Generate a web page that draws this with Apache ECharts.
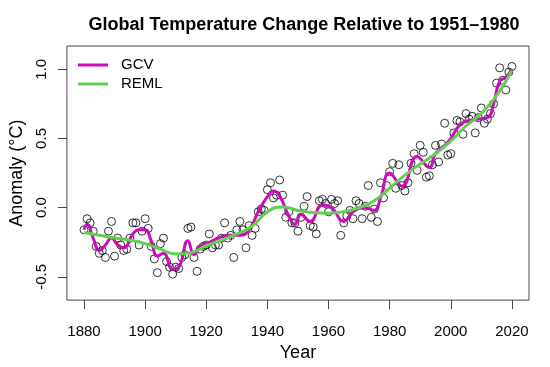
<!DOCTYPE html>
<html>
<head>
<meta charset="utf-8">
<script src="https://cdn.jsdelivr.net/npm/echarts@6/dist/echarts.min.js"></script>
<style>
html,body{margin:0;padding:0;background:#fff;}
#chart{width:550px;height:367px;}
</style>
</head>
<body>
<div id="chart"></div>
<script>
// Annual anomalies, 1880-2020 (°C)
const startYear = 1880;
const anomalies = [
 -0.16,-0.08,-0.11,-0.17,-0.28,-0.33,-0.31,-0.36,-0.17,-0.10,
 -0.35,-0.22,-0.27,-0.31,-0.30,-0.22,-0.11,-0.11,-0.27,-0.17,
 -0.08,-0.15,-0.28,-0.37,-0.47,-0.26,-0.22,-0.39,-0.43,-0.48,
 -0.43,-0.44,-0.36,-0.34,-0.15,-0.14,-0.36,-0.46,-0.30,-0.28,
 -0.27,-0.19,-0.29,-0.27,-0.27,-0.22,-0.11,-0.22,-0.20,-0.36,
 -0.16,-0.10,-0.16,-0.29,-0.13,-0.20,-0.15,-0.03,-0.01,-0.02,
  0.13, 0.18, 0.07, 0.09, 0.20, 0.09,-0.07,-0.03,-0.11,-0.11,
 -0.17,-0.07, 0.01, 0.08,-0.13,-0.14,-0.19, 0.05, 0.06, 0.03,
 -0.03, 0.06, 0.03, 0.05,-0.20,-0.11,-0.06,-0.02,-0.08, 0.05,
  0.03,-0.08, 0.01, 0.16,-0.07,-0.01,-0.10, 0.18, 0.07, 0.16,
  0.26, 0.32, 0.14, 0.31, 0.16, 0.12, 0.18, 0.32, 0.39, 0.27,
  0.45, 0.40, 0.22, 0.23, 0.31, 0.45, 0.33, 0.46, 0.61, 0.38,
  0.39, 0.54, 0.63, 0.62, 0.53, 0.68, 0.64, 0.66, 0.54, 0.65,
  0.72, 0.61, 0.64, 0.68, 0.75, 0.90, 1.01, 0.92, 0.85, 0.98,
  1.02
];

// GCV smooth
const gcvYears = [1880,1881,1883,1885,1887,1889,1891,1893,1896,1898,1900,1902,1904,1906,1909,1911,1914,1916,1918,1921,1925,1928,1931,1934,1937,1940,1942,1944,1947,1949,1951,1954,1958,1961,1965,1968,1972,1975,1977,1980,1984,1989,1993,1995,1999,2004,2008,2012,2014,2016,2018,2020];
const gcvValues = [-0.16,-0.12,-0.22,-0.31,-0.27,-0.22,-0.27,-0.29,-0.19,-0.16,-0.16,-0.24,-0.35,-0.33,-0.445,-0.43,-0.24,-0.34,-0.28,-0.25,-0.21,-0.20,-0.20,-0.16,-0.03,0.08,0.12,0.085,-0.06,-0.12,-0.05,-0.10,0.02,0.0,-0.10,-0.03,0.0,-0.02,0.07,0.25,0.155,0.37,0.29,0.39,0.47,0.615,0.637,0.65,0.75,0.915,0.94,1.0];

// REML smooth
const remlYears = [1880,1885,1890,1895,1900,1905,1910,1915,1920,1925,1930,1935,1940,1945,1950,1955,1960,1965,1970,1975,1980,1985,1990,1995,2000,2005,2010,2015,2020];
const remlValues = [-0.18,-0.20,-0.22,-0.235,-0.26,-0.30,-0.335,-0.325,-0.275,-0.235,-0.19,-0.135,-0.03,0.005,-0.02,-0.035,-0.04,-0.03,0.0,0.05,0.14,0.235,0.315,0.39,0.48,0.59,0.68,0.81,0.99];

const xTicks = [1880,1900,1920,1940,1960,1980,2000,2020];
const yTicks = [-0.5,0.0,0.5,1.0];

const FONT = 'Liberation Sans, Arial, Helvetica, sans-serif';
const pts = anomalies.map((v,i)=>[startYear+i, v]);
const gcv = gcvYears.map((y,i)=>[y, gcvValues[i]]);
const reml = remlYears.map((y,i)=>[y, remlValues[i]]);

const chart = echarts.init(document.getElementById('chart'), null, {renderer:'canvas'});
chart.setOption({
  animation:false,
  backgroundColor:'#fff',
  title:{
    text:'Global Temperature Change Relative to 1951\u20131980',
    left:299, top:11, textAlign:'center',
    textStyle:{fontFamily:FONT, fontSize:18, fontWeight:'bold', color:'#000'}
  },
  grid:{left:66, right:21, top:46, bottom:66, show:true, borderColor:'#444', borderWidth:1, backgroundColor:'transparent'},
  legend:{
    data:['GCV','REML'], orient:'vertical', left:78, top:56, padding:0,
    itemWidth:30, itemHeight:3, itemGap:1, icon:'rect',
    textStyle:{fontFamily:FONT, fontSize:15, color:'#000', lineHeight:18, padding:[0,0,0,8]}
  },
  xAxis:{
    type:'value', min:1874.4, max:2025.6,
    name:'Year', nameLocation:'middle', nameGap:40,
    nameTextStyle:{fontFamily:FONT, fontSize:18, color:'#000'},
    axisLine:{show:false, onZero:false},
    splitLine:{show:false},
    axisTick:{show:true, length:9, customValues:xTicks, lineStyle:{color:'#444'}},
    axisLabel:{customValues:xTicks, fontFamily:FONT, fontSize:15, color:'#000', margin:24,
      formatter:v=>String(v)}
  },
  yAxis:{
    type:'value', min:-0.668, max:1.168,
    name:'Anomaly (\u00B0C)', nameLocation:'middle', nameGap:40, nameRotate:90,
    nameTextStyle:{fontFamily:FONT, fontSize:18, color:'#000'},
    axisLine:{show:false, onZero:false},
    splitLine:{show:false},
    axisTick:{show:true, length:9, customValues:yTicks, lineStyle:{color:'#444'}},
    axisLabel:{customValues:yTicks, rotate:90, fontFamily:FONT, fontSize:15, color:'#000', margin:18,
      formatter:v=>v.toFixed(1)}
  },
  series:[
    {type:'scatter', data:pts, symbol:'circle', symbolSize:8, silent:true,
     itemStyle:{color:'rgba(0,0,0,0)', borderColor:'#000', borderWidth:1}},
    {name:'GCV', type:'line', data:gcv, smooth:0.5, showSymbol:false, symbol:'none',
     lineStyle:{color:'#CD0BBC', width:3}, itemStyle:{color:'#CD0BBC'}},
    {name:'REML', type:'line', data:reml, smooth:0.5, showSymbol:false, symbol:'none',
     lineStyle:{color:'#61D04F', width:3}, itemStyle:{color:'#61D04F'}}
  ]
});
</script>
</body>
</html>
